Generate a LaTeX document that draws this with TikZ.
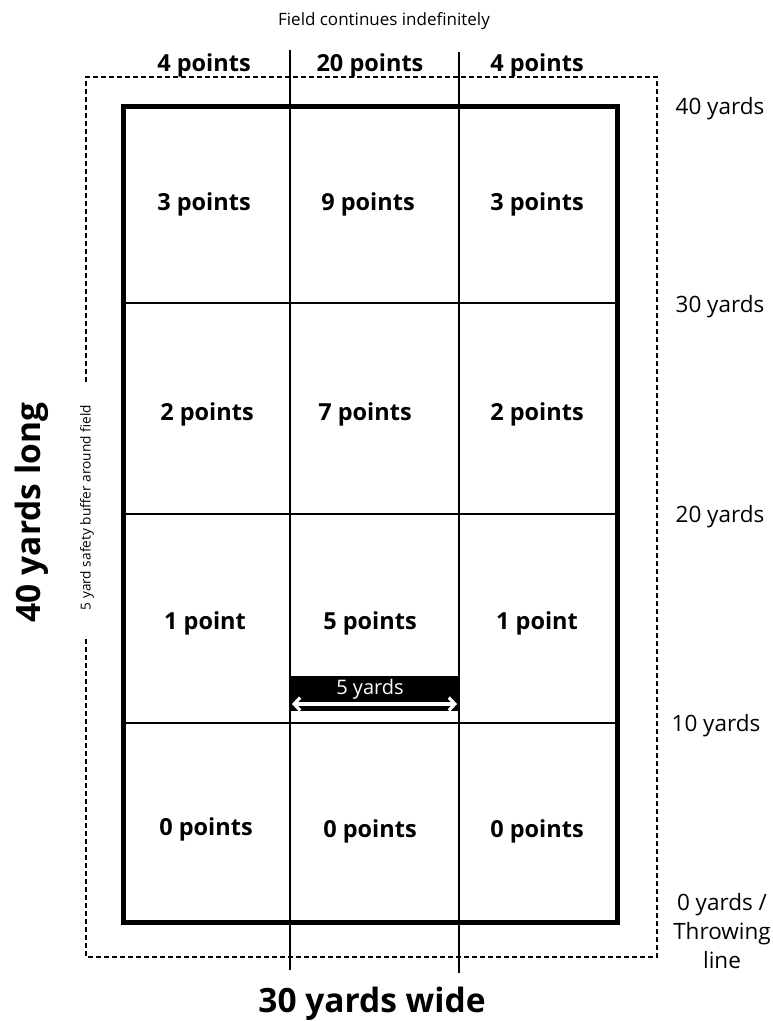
\documentclass[tikz,border=0pt]{standalone}
\usepackage{fontspec}
\setmainfont{Open Sans}
\usetikzlibrary{arrows.meta}
\begin{document}
\begin{tikzpicture}[x=1pt,y=-1pt,
  txt/.style={yshift=-2.5pt},
  divider/.style={line width=1.5pt},
  buffer/.style={line width=1.2pt, dash pattern=on 5pt off 3pt},
  cell/.style={txt, font=\fontsize{23.5}{28}\selectfont\bfseries},
  toplbl/.style={txt, font=\fontsize{23.5}{28}\selectfont\bfseries},
  yardlbl/.style={txt, font=\fontsize{22.5}{27}\selectfont, align=center},
  biglbl/.style={font=\fontsize{33.5}{38}\selectfont\bfseries},
  smalllbl/.style={txt, font=\fontsize{17}{20}\selectfont}]
\useasboundingbox (0,0) rectangle (773,1021);
% named coordinates
\coordinate (v1t) at (290,50);  \coordinate (v1b) at (290,970);
\coordinate (v2t) at (459,52);  \coordinate (v2b) at (459,973);
\coordinate (h1l) at (123,303); \coordinate (h1r) at (617,303);
\coordinate (h2l) at (123,514); \coordinate (h2r) at (617,514);
\coordinate (h3l) at (123,723); \coordinate (h3r) at (617,723);
\coordinate (ga) at (86,382); \coordinate (gb) at (86,636);
% dashed buffer
\draw[buffer] (ga) -- (86,77) -- (657,77) -- (657,957) -- (86,957) -- (gb);
% dividers
\draw[divider] (v1t) -- (v1b);
\draw[divider] (v2t) -- (v2b);
\draw[divider] (h1l) -- (h1r);
\draw[divider] (h2l) -- (h2r);
\draw[divider] (h3l) -- (h3r);
% field outline
\draw[line width=5pt] (123,106) rectangle (617,922);
% 5 yards bar
\fill[black] (290,676) rectangle (459,711);
\node[font=\fontsize{20}{24}\selectfont, text=white, yshift=-1pt] (fy) at (370,688) {5 yards};
\coordinate (al) at (292,704); \coordinate (ar) at (457,704);
\draw[white, line width=3.2pt, {Straight Barb[length=6pt,width=13pt]}-{Straight Barb[length=6pt,width=13pt]}] (al) -- (ar);
% cell labels
\node[cell] (c11) at (204,202) {3 points};
\node[cell] (c12) at (368,202) {9 points};
\node[cell] (c13) at (537,202) {3 points};
\node[cell] (c21) at (207,412) {2 points};
\node[cell] (c22) at (365,412) {7 points};
\node[cell] (c23) at (537,412) {2 points};
\node[cell] (c31) at (205,621) {1 point};
\node[cell] (c32) at (370,621) {5 points};
\node[cell] (c33) at (537,621) {1 point};
\node[cell] (c41) at (206,827) {0 points};
\node[cell] (c42) at (370,829) {0 points};
\node[cell] (c43) at (537,829) {0 points};
% top labels
\node[toplbl] (t1) at (204,63) {4 points};
\node[toplbl] (t2) at (370,63) {20 points};
\node[toplbl] (t3) at (537,63) {4 points};
\node[smalllbl] (fc) at (384,19) {Field continues indefinitely};
% right yard labels
\node[yardlbl] (y40) at (720,106) {40 yards};
\node[yardlbl] (y30) at (720,304) {30 yards};
\node[yardlbl] (y20) at (720,514) {20 yards};
\node[yardlbl] (y10) at (716,723) {10 yards};
\node[yardlbl, font=\fontsize{22.5}{29}\selectfont] (y0) at (722,929) {0 yards /\\Throwing\\line};
% axis labels
\node[biglbl, rotate=90, xshift=2.5pt] (long) at (32,515) {40 yards long};
\node[biglbl, yshift=-2.5pt] (wide) at (372,1001) {30 yards wide};
\node[font=\fontsize{13.7}{16}\selectfont, rotate=90, xshift=2.5pt] (buf) at (87,510) {5 yard safety buffer around field};
\end{tikzpicture}
\end{document}
